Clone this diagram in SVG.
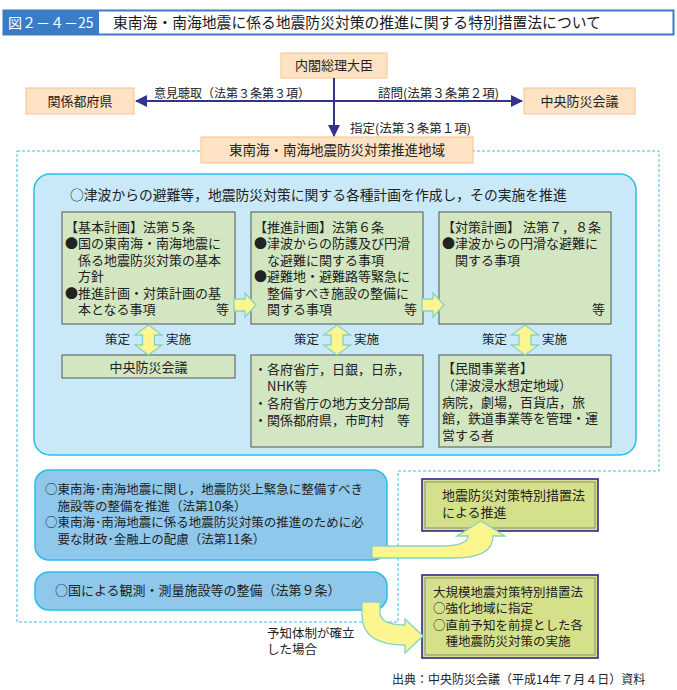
<svg xmlns="http://www.w3.org/2000/svg" width="677" height="690" viewBox="0 0 677 690">
<style>
text{font-family:"Noto Sans CJK JP","Noto Sans",sans-serif;fill:#222;}
.t13{font-size:13px;}
.t12{font-size:12.5px;}
.orange{fill:#fde2c3;stroke:#f6c48e;stroke-width:1;}
.green{fill:#d2e6c1;stroke:#555;stroke-width:1;}
.olive{fill:#d5e08b;stroke:#2c2c88;stroke-width:1.6;}
.oliveIn{fill:none;stroke:#8b8d78;stroke-width:1;}
.lblue{fill:#c9e9f8;stroke:#26bee9;stroke-width:1.5;}
.mblue{fill:#90c8ec;stroke:#26bee9;stroke-width:1.5;}
.yarrow{fill:#fdf58e;stroke:#86d2c8;stroke-width:1.3;}
.navy{stroke:#33338f;stroke-width:2;fill:none;}
.mid{text-anchor:middle;}
</style>
<defs>
<marker id="ah" markerUnits="userSpaceOnUse" markerWidth="12" markerHeight="12" refX="11" refY="6" orient="auto-start-reverse">
<path d="M0,0 L12,6 L0,12 Z" fill="#33338f"/>
</marker>
</defs>

<g id="title">
<rect x="3.5" y="10.5" width="670" height="24" fill="#fff" stroke="#3b7cc6" stroke-width="2"/>
<rect x="3" y="10" width="96" height="25" fill="#3b7cc6"/>
<text x="8" y="28" style="font-size:14px;fill:#fff">図２－４－25</text>
<text x="113" y="28" style="font-size:14.8px;fill:#1a1a1a">東南海・南海地震に係る地震防災対策の推進に関する特別措置法について</text>
</g>

<g id="boundary">
<path d="M17,151 H659 V471 H398 V622 H17 Z" fill="none" stroke="#3cbde0" stroke-width="1" stroke-dasharray="3,2"/>
</g>

<g id="node-pm">
<rect class="orange" x="281" y="53" width="106" height="25"/>
<text class="mid" x="334" y="70" style="font-size:13px">内閣総理大臣</text>
</g>
<g id="node-pref">
<rect class="orange" x="26" y="88" width="108" height="26"/>
<text class="mid" x="80" y="106" style="font-size:13px">関係都府県</text>
</g>
<g id="node-council">
<rect class="orange" x="524" y="88" width="111" height="26"/>
<text class="mid" x="579.5" y="106" style="font-size:13px">中央防災会議</text>
</g>
<g id="node-area">
<rect class="orange" x="201" y="137" width="272" height="26"/>
<text class="mid" x="337" y="155" style="font-size:13.5px">東南海・南海地震防災対策推進地域</text>
</g>

<g id="node-plans">
<rect class="lblue" x="34" y="174" width="602" height="281" rx="16"/>
<text x="70" y="200" style="font-size:13.8px">○津波からの避難等，地震防災対策に関する各種計画を作成し，その実施を推進</text>
</g>

<g id="node-basic">
<rect class="green" x="62" y="212" width="173" height="112"/>
<text class="t13" x="65" y="232">【基本計画】法第５条</text>
<text class="t13" x="65" y="248.4">●国の東南海・南海地震に</text>
<text class="t13" x="78" y="264.8">係る地震防災対策の基本</text>
<text class="t13" x="78" y="281.2">方針</text>
<text class="t13" x="65" y="297.6">●推進計画・対策計画の基</text>
<text class="t13" x="78" y="314">本となる事項</text>
<text class="t13" x="216" y="314">等</text>
</g>
<g id="node-promo">
<rect class="green" x="251" y="212" width="172" height="112"/>
<text class="t13" x="254" y="232">【推進計画】法第６条</text>
<text class="t13" x="254" y="248.4">●津波からの防護及び円滑</text>
<text class="t13" x="267" y="264.8">な避難に関する事項</text>
<text class="t13" x="254" y="281.2">●避難地・避難路等緊急に</text>
<text class="t13" x="267" y="297.6">整備すべき施設の整備に</text>
<text class="t13" x="267" y="314">関する事項</text>
<text class="t13" x="404" y="314">等</text>
</g>
<g id="node-measure">
<rect class="green" x="439" y="212" width="172" height="112"/>
<text class="t13" x="442" y="232">【対策計画】 法第７，８条</text>
<text class="t13" x="442" y="248.4">●津波からの円滑な避難に</text>
<text class="t13" x="455" y="264.8">関する事項</text>
<text class="t13" x="592" y="314">等</text>
</g>

<g id="node-council2">
<rect class="green" x="62" y="355" width="173" height="23"/>
<text class="t13 mid" x="148.5" y="371.5">中央防災会議</text>
</g>
<g id="node-agencies">
<rect class="green" x="251" y="355" width="172" height="92"/>
<text class="t13" x="254" y="374">・各府省庁，日銀，日赤，</text>
<text class="t13" x="267" y="391">NHK等</text>
<text class="t13" x="254" y="408">・各府省庁の地方支分部局</text>
<text class="t13" x="254" y="425">・関係都府県，市町村　等</text>
</g>
<g id="node-private">
<rect class="green" x="439" y="355" width="172" height="92"/>
<text class="t13" x="442" y="373">【民間事業者】</text>
<text class="t13" x="442" y="389.8">（津波浸水想定地域）</text>
<text class="t13" x="442" y="406.6">病院，劇場，百貨店，旅</text>
<text class="t13" x="442" y="423.4">館，鉄道事業等を管理・運</text>
<text class="t13" x="442" y="440.2">営する者</text>
</g>

<g id="node-urgent">
<rect class="mblue" x="35" y="470" width="352" height="90" rx="14"/>
<text x="45" y="493.5" style="font-size:12.5px">○東南海･南海地震に関し，地震防災上緊急に整備すべき</text>
<text x="45" y="510.5" style="font-size:12.5px">　施設等の整備を推進（法第10条）</text>
<text x="45" y="526.5" style="font-size:12.5px">○東南海･南海地震に係る地震防災対策の推進のために必</text>
<text x="45" y="543.5" style="font-size:12.5px">　要な財政･金融上の配慮（法第11条）</text>
</g>
<g id="node-observe">
<rect class="mblue" x="35" y="572" width="352" height="38" rx="14"/>
<text x="55" y="595" style="font-size:13px">○国による観測・測量施設等の整備（法第９条）</text>
</g>

<g id="node-law1">
<rect class="olive" x="422" y="479" width="176" height="52"/>
<rect class="oliveIn" x="425" y="482" width="170" height="46"/>
<text x="442" y="500" style="font-size:13px">地震防災対策特別措置法</text>
<text x="442" y="517" style="font-size:13px">による推進</text>
</g>
<g id="node-law2">
<rect class="olive" x="422" y="575" width="176" height="83"/>
<rect class="oliveIn" x="425" y="578" width="170" height="77"/>
<text x="433" y="597" style="font-size:12.5px">大規模地震対策特別措置法</text>
<text x="433" y="613" style="font-size:12.5px">○強化地域に指定</text>
<text x="433" y="630" style="font-size:12.5px">○直前予知を前提とした各</text>
<text x="433" y="646" style="font-size:12.5px">　種地震防災対策の実施</text>
</g>

<g id="connectors">
<line class="navy" x1="136" y1="101" x2="522" y2="101" marker-start="url(#ah)" marker-end="url(#ah)"/>
<line class="navy" x1="334" y1="78" x2="334" y2="136" marker-end="url(#ah)"/>
<text x="154" y="98" style="font-size:12px">意見聴取（法第３条第３項）</text>
<text x="378" y="98" style="font-size:12.5px">諮問(法第３条第２項)</text>
<text x="350" y="133" style="font-size:12.5px">指定(法第３条第１項)</text>

<path class="yarrow" d="M234,299 H245 V293 L256,305 L245,317 V311 H234 Z"/>
<path class="yarrow" d="M422,299 H433 V293 L444,305 L433,317 V311 H422 Z"/>

<path class="yarrow" d="M148.5,325 L162,335 H154.5 V345 H162 L148.5,355 L135,345 H142.5 V335 H135 Z"/>
<path class="yarrow" d="M337,325 L350.5,335 H343 V345 H350.5 L337,355 L323.5,345 H331 V335 H323.5 Z"/>
<path class="yarrow" d="M525,325 L538.5,335 H531 V345 H538.5 L525,355 L511.5,345 H519 V335 H511.5 Z"/>
<text class="t12" x="105" y="344">策定</text>
<text class="t12" x="166" y="344">実施</text>
<text class="t12" x="294" y="344">策定</text>
<text class="t12" x="354" y="344">実施</text>
<text class="t12" x="482" y="344">策定</text>
<text class="t12" x="542" y="344">実施</text>

<path class="yarrow" d="M372,546 H440 Q468,546 468,536 H457 L481,521 L505,536 H493 Q493,558 455,558 H372 Z"/>
<path class="yarrow" d="M362,602 H380 V612 Q380,625 405,625 V619 L423,636 L405,653 V645 Q362,645 362,615 Z"/>
<text x="267" y="638" style="font-size:12.5px">予知体制が確立</text>
<text x="267" y="654" style="font-size:12.5px">した場合</text>
</g>

<g id="source">
<text x="392" y="684" style="font-size:12px">出典：中央防災会議（平成14年７月４日）資料</text>
</g>
</svg>
